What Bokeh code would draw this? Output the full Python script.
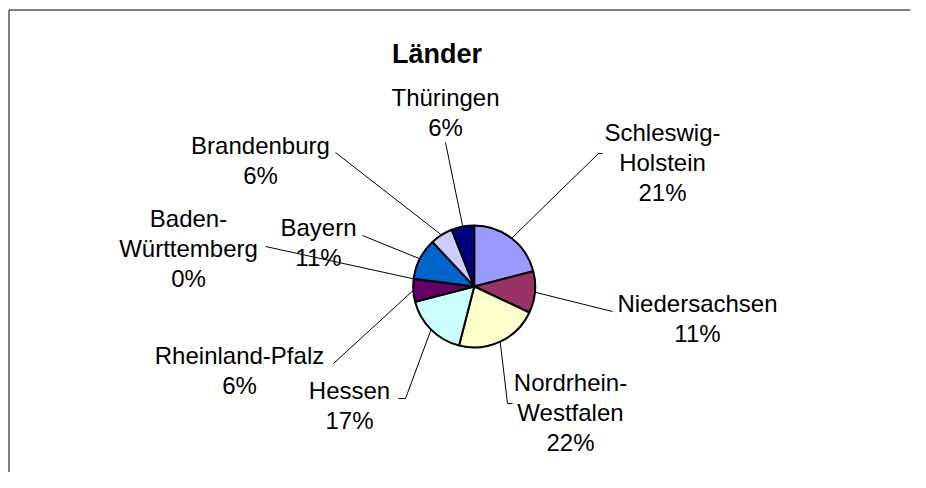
import math
from bokeh.plotting import figure
from bokeh.models import Range1d, ColumnDataSource
from bokeh.core.properties import value
from bokeh.embed import file_html
from bokeh.resources import INLINE

# ---- data ----
laender = ["Schleswig-Holstein", "Niedersachsen", "Nordrhein-Westfalen", "Hessen",
           "Rheinland-Pfalz", "Baden-Württemberg", "Bayern", "Brandenburg", "Thüringen"]
anteile = [21, 11, 22, 17, 6, 0, 11, 6, 6]
farben = ["#9999FF", "#993366", "#FFFFCC", "#CCFFFF", "#660066",
          "#FF8080", "#0066CC", "#CCCCFF", "#000080"]
titel = "Länder"

# ---- layout (pixel coordinates of the reference picture) ----
W, H = 910, 472
CX, CY, R = 473.7, 286.0, 61.0
# label centre x, first baseline y
label_pos = [(662, 132), (697, 303), (570, 382), (349, 390), (239, 355),
             (188, 218), (318, 227), (260, 145), (445, 97)]
wrap = [True, False, True, False, False, True, False, False, False]
# leader outer knee and optional tick end
leader_knee = [(598, 153), (612, 311), (507, 403), (405, 398), (333, 363),
               (265, 246), (362, 235), (335, 152), (445, 142)]
leader_tick = [(602, 153), None, (512, 403), (398, 398), None, None, None, None, None]
LINE_H = 30


def px(X):
    return X


def py(Y):
    return H - Y


p = figure(width=W, height=H, output_backend="svg", toolbar_location=None,
           x_range=Range1d(0, W), y_range=Range1d(0, H), min_border=0)
p.axis.visible = False
p.grid.visible = False
p.outline_line_color = None
p.background_fill_color = "white"
p.border_fill_color = "white"

# chart border (top and left visible in the window)
p.line([px(8.5), W], [py(9.5), py(9.5)], line_color="black", line_width=1)
p.line([px(8.5), px(8.5)], [0, py(9.5)], line_color="black", line_width=1)

total = sum(anteile)
cum = 0.0
starts, ends, mids = [], [], []
for v in anteile:
    f0 = cum / total
    cum += v
    f1 = cum / total
    starts.append(math.pi / 2 - 2 * math.pi * f0)
    ends.append(math.pi / 2 - 2 * math.pi * f1)
    mids.append((f0 + f1) / 2)

idx = [i for i, v in enumerate(anteile) if v > 0]
src = ColumnDataSource(dict(
    x=[px(CX)] * len(idx), y=[py(CY)] * len(idx),
    s=[starts[i] for i in idx], e=[ends[i] for i in idx],
    c=[farben[i] for i in idx]))
p.wedge(x="x", y="y", radius=R, start_angle="s", end_angle="e", direction="clock",
        fill_color="c", line_color="black", line_width=2, source=src)

# leader lines
xs, ys = [], []
for i, m in enumerate(mids):
    a = 2 * math.pi * m
    ex, ey = CX + R * math.sin(a), CY - R * math.cos(a)
    pts = [(ex, ey), leader_knee[i]]
    if leader_tick[i] is not None:
        pts.append(leader_tick[i])
    xs.append([px(q[0]) for q in pts])
    ys.append([py(q[1]) for q in pts])
p.multi_line(xs, ys, line_color="black", line_width=1)

# labels
tx, ty, tt = [], [], []
for i, name in enumerate(laender):
    pct = f"{round(anteile[i] / total * 100)}%"
    if wrap[i] and "-" in name:
        a, b = name.split("-", 1)
        lines = [a + "-", b, pct]
    else:
        lines = [name, pct]
    lx, ly = label_pos[i]
    for k, t in enumerate(lines):
        tx.append(px(lx))
        ty.append(py(ly + k * LINE_H))
        tt.append(t)
p.text(tx, ty, text=tt, text_font=value("Liberation Sans"), text_font_size="24px",
       text_align="center", text_baseline="alphabetic", text_color="black")

p.text([px(436.5)], [py(53)], text=[titel], text_font=value("Liberation Sans"),
       text_font_size="27px", text_font_style="bold", text_align="center",
       text_baseline="alphabetic", text_color="black")

open("out.html", "w").write(file_html(p, INLINE))
